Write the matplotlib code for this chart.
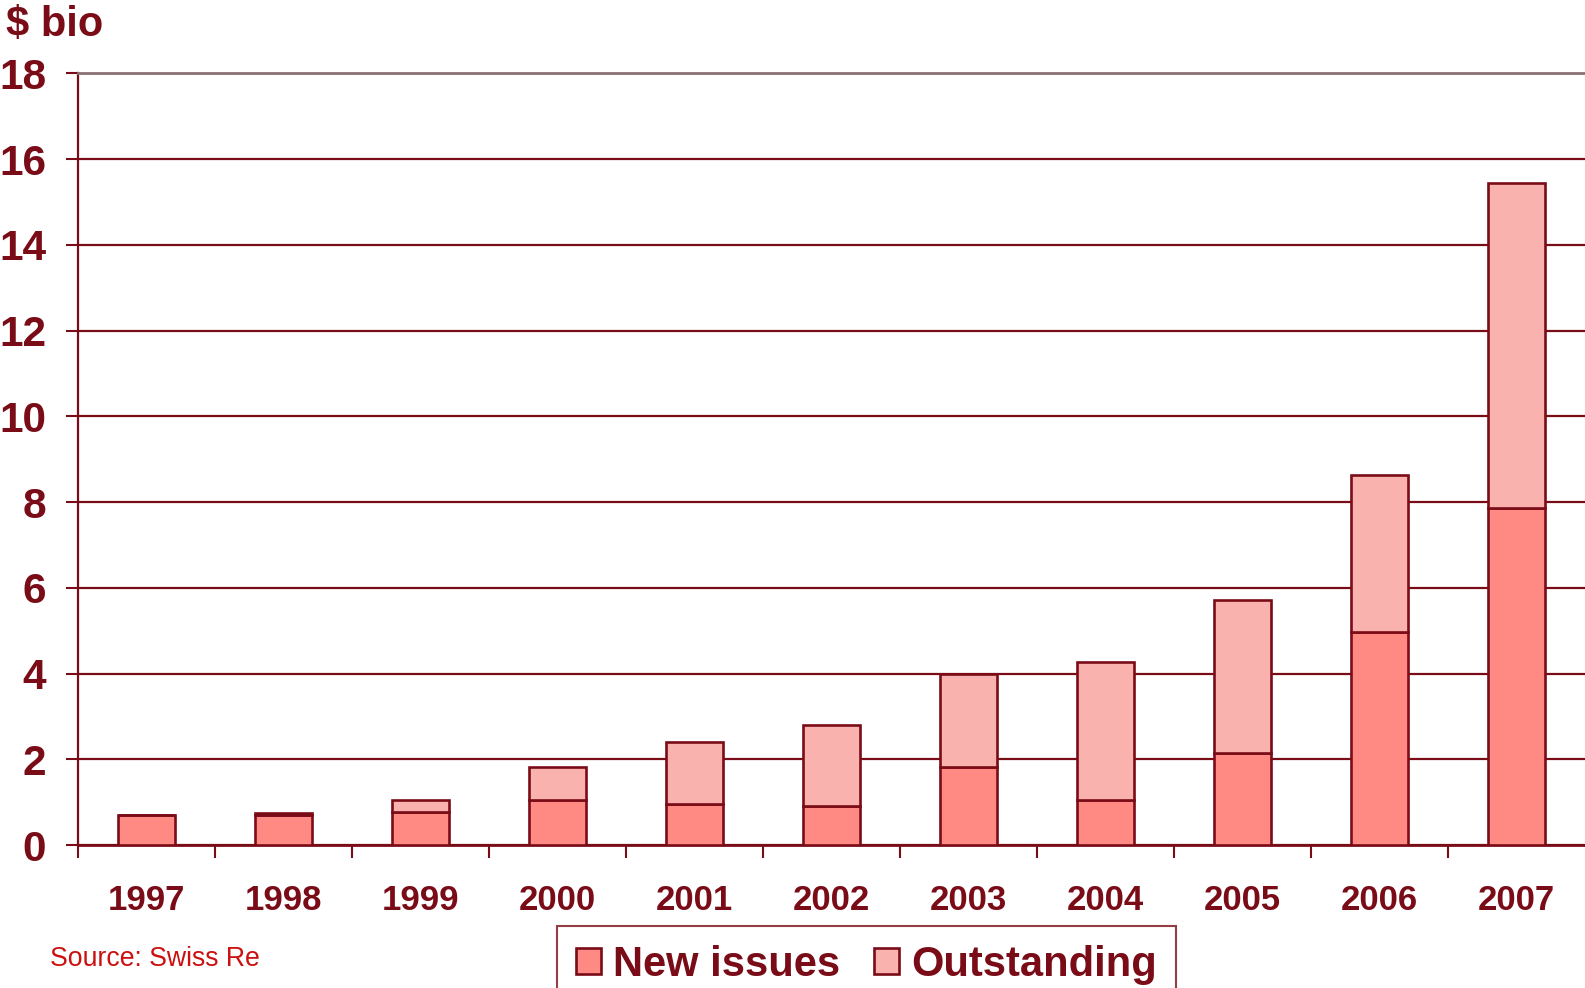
import numpy as np
import matplotlib.pyplot as plt
from matplotlib.ticker import MultipleLocator

years = ["1997", "1998", "1999", "2000", "2001", "2002",
         "2003", "2004", "2005", "2006", "2007"]
new_issues = [0.70, 0.70, 0.76, 1.05, 0.96, 0.92, 1.81, 1.06, 2.15, 4.97, 7.87]
outstanding = [0.00, 0.05, 0.30, 0.77, 1.44, 1.88, 2.17, 3.20, 3.56, 3.66, 7.57]

DARK = "#7a0c18"
plt.rcParams['font.family'] = ['Liberation Sans', 'DejaVu Sans']

fig = plt.figure(figsize=(15.85, 9.88), dpi=100)
ax = fig.add_axes([78 / 1585, 1 - 845 / 988, 1 - 78 / 1585, (845 - 73.3) / 988])

x = np.arange(len(years))
ax.bar(x, new_issues, width=0.41, color="#ff8a84", edgecolor=DARK,
       linewidth=1.9, label="New issues", zorder=3)
ax.bar(x, outstanding, width=0.41, bottom=new_issues, color="#fab2ae",
       edgecolor=DARK, linewidth=1.9, label="Outstanding", zorder=3)

ax.set_xlim(-0.5, 10.5)
ax.set_ylim(0, 18)
ax.yaxis.set_major_locator(MultipleLocator(2))
ax.set_xticks(x)
ax.set_xticklabels(years)
ax.set_xticks(np.arange(-0.5, 10.5, 1), minor=True)

ax.tick_params(axis='x', which='major', length=0, pad=28, labelsize=25,
               labelcolor=DARK)
ax.tick_params(axis='x', which='minor', length=9, width=1.5, color=DARK,
               direction='out')
ax.tick_params(axis='y', length=9, width=1.5, color=DARK, pad=14,
               labelsize=30.5, labelcolor=DARK)
for lab in ax.get_xticklabels() + ax.get_yticklabels():
    lab.set_fontweight('bold')

ax.set_axisbelow(True)
ax.grid(axis='y', color=DARK, linewidth=1.6)
ax.spines['left'].set_color(DARK)
ax.spines['left'].set_linewidth(1.6)
ax.spines['bottom'].set_color(DARK)
ax.spines['bottom'].set_linewidth(2)
ax.spines['top'].set_color("#8a7275")
ax.spines['top'].set_linewidth(2)
ax.spines['right'].set_visible(False)

fig.text(0.004, 1 - 36 / 988, "$ bio", fontsize=30, fontweight='bold',
         color=DARK, va='baseline', ha='left')
fig.text(50 / 1585, 1 - 959 / 988, "Source: Swiss Re", fontsize=19.2,
         color="#cc1010", va='center', ha='left')

leg = fig.legend(loc='upper left', bbox_to_anchor=(557 / 1585, 1 - 926 / 988),
                 ncol=2, frameon=True, fancybox=False,
                 prop={'weight': 'bold', 'size': 30},
                 handlelength=0.6, handleheight=0.6, handletextpad=0.3,
                 columnspacing=0.8, borderpad=0.45, borderaxespad=0)
leg.get_frame().set_edgecolor(DARK)
leg.get_frame().set_linewidth(1.5)
for t in leg.get_texts():
    t.set_color(DARK)

fig.savefig("out.png", dpi=100)
